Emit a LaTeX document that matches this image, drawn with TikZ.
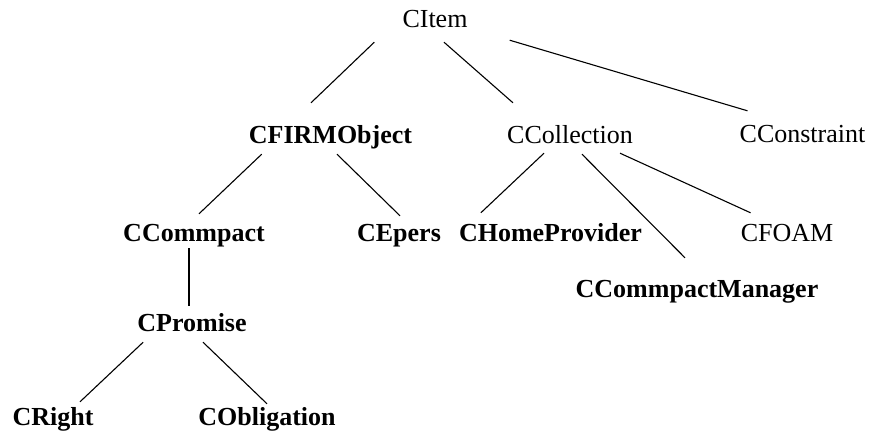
\documentclass[tikz,border=0pt]{standalone}
\usepackage{fontspec}
\setmainfont{Liberation Serif}
\begin{document}
\begin{tikzpicture}[x=1pt, y=-1pt,
        cls/.style={inner sep=0pt, text height=18pt, text depth=6pt, anchor=base,
            font=\fontsize{26}{30}\selectfont},
        bcls/.style={cls, font=\fontsize{26}{30}\selectfont\bfseries},
        edge/.style={line width=1.1pt}]
        \useasboundingbox (0,0) rectangle (879,434);
        % class hierarchy
        \node[cls] (item) at (435,27) {CItem};
        \node[bcls] (firm) at (330.5,143) {CFIRMObject};
        \node[cls] (coll) at (570,143) {CCollection};
        \node[cls] (cons) at (802.5,142) {CConstraint};
        \node[bcls] (comp) at (194,241) {CCommpact};
        \node[bcls] (epers) at (399,241) {CEpers};
        \node[bcls] (home) at (550.5,241) {CHomeProvider};
        \node[cls] (foam) at (787,241) {CFOAM};
        \node[bcls] (mgr) at (697,297) {CCommpactManager};
        \node[bcls] (prom) at (192,331) {CPromise};
        \node[bcls] (right) at (53,425) {CRight};
        \node[bcls] (oblig) at (267,425) {CObligation};
        % links
        \draw[edge] ([shift={(-28,9)}]item.south west) -- ([shift={(-19.5,-22)}]firm.north);
        \draw[edge] ([shift={(9,9)}]item.south) -- ([shift={(6,-22)}]coll.north west);
        \draw[edge] ([shift={(42,7)}]item.south east) -- ([shift={(8,-13)}]cons.north west);
        \draw[edge] ([shift={(13,5)}]firm.south west) -- ([shift={(5,-9)}]comp.north);
        \draw[edge] ([shift={(6.5,5)}]firm.south) -- ([shift={(1,-7)}]epers.north);
        \draw[edge] ([shift={(-26,4)}]coll.south) -- ([shift={(22,-10)}]home.north west);
        \draw[edge] ([shift={(12,5)}]coll.south) -- ([shift={(-12,-21)}]mgr.north);
        \draw[edge] ([shift={(-13,4)}]coll.south east) -- ([shift={(10,-10)}]foam.north west);
        \draw[edge] ([shift={(-5,1)}]comp.south) -- ([shift={(-3,-7)}]prom.north);
        \draw[edge] ([shift={(6,5)}]prom.south west) -- ([shift={(27,-5)}]right.north);
        \draw[edge] ([shift={(11,5)}]prom.south) -- ([shift={(0,-3)}]oblig.north);
    \end{tikzpicture}
\end{document}
